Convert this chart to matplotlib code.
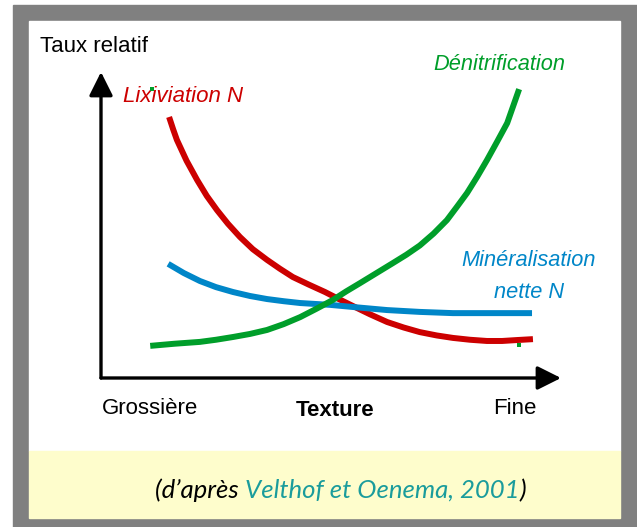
import matplotlib.pyplot as plt
from matplotlib.patches import Rectangle

# curves (texture 0..10, relative rate 0..10)
lix_x = [1.48, 1.57, 1.65, 1.86, 2.09, 2.30, 2.52, 2.76, 3.02, 3.30, 3.61, 3.89, 4.17, 4.52,
         4.87, 5.17, 5.48, 5.85, 6.22, 6.58, 6.93, 7.30, 7.65, 8.02, 8.39, 8.72, 9.04, 9.39]
lix_y = [8.53, 8.12, 7.78, 7.10, 6.47, 5.95, 5.49, 5.04, 4.61, 4.21, 3.86, 3.57, 3.30, 3.05,
         2.81, 2.58, 2.35, 2.08, 1.83, 1.65, 1.50, 1.39, 1.31, 1.25, 1.21, 1.21, 1.24, 1.27]

min_x = [1.46, 1.80, 2.15, 2.50, 2.87, 3.24, 3.61, 3.97, 4.33, 4.98, 5.48, 6.22, 6.93, 7.65, 8.39, 9.37]
min_y = [3.73, 3.43, 3.17, 2.97, 2.81, 2.68, 2.58, 2.51, 2.45, 2.39, 2.32, 2.22, 2.16, 2.12, 2.12, 2.12]

den_x = [1.07, 1.60, 2.15, 2.50, 2.87, 3.24, 3.61, 3.97, 4.33, 4.68, 5.04, 5.33, 5.63, 5.99,
         6.35, 6.64, 6.93, 7.23, 7.52, 7.74, 7.96, 8.18, 8.39, 8.61, 8.83, 9.09]
den_y = [1.05, 1.12, 1.18, 1.25, 1.34, 1.44, 1.57, 1.76, 1.99, 2.26, 2.55, 2.83, 3.10, 3.43,
         3.76, 4.03, 4.33, 4.72, 5.16, 5.60, 6.05, 6.58, 7.12, 7.72, 8.33, 9.44]

# two small green specks present in the original
speck_x = [1.11, 9.09]
speck_y = [9.44, 1.08]

RED = '#cc0000'
GREEN = '#009e2a'
BLUE = '#0086c8'
TEAL = '#1a9c9c'

W, H = 637, 527
fig = plt.figure(figsize=(W / 100, H / 100), dpi=100)

# frame and caption band, in pixel units
bg = fig.add_axes([0, 0, 1, 1])
bg.set_xlim(0, W)
bg.set_ylim(H, 0)
bg.axis('off')
bg.add_patch(Rectangle((13, 5), W - 13, H - 5, color='#808080'))
bg.add_patch(Rectangle((29, 21), 591, 430, color='white'))
bg.add_patch(Rectangle((29, 451), 591, 67, color='#fefdcc'))

# chart area: x from px 101 to 561, y from px 378 up to 72
x0, x1, y0, y1 = 101, 561, 378, 72
ax = fig.add_axes([x0 / W, (H - y0) / H, (x1 - x0) / W, (y0 - y1) / H])
ax.set_xlim(0, 10)
ax.set_ylim(0, 10)
ax.patch.set_visible(False)
for s in ax.spines.values():
    s.set_visible(False)
ax.set_xticks([])
ax.set_yticks([])

arrow = dict(arrowstyle='-|>,head_length=0.9,head_width=0.45', lw=2.4, color='black',
             mutation_scale=16, shrinkA=0, shrinkB=0)
ax.annotate('', xy=(1, 0), xytext=(0, 0), xycoords='axes fraction', arrowprops=arrow)
ax.annotate('', xy=(0, 1), xytext=(0, 0), xycoords='axes fraction', arrowprops=arrow)

lw = 4.3
ax.plot(lix_x, lix_y, color=RED, lw=lw, solid_capstyle='butt', solid_joinstyle='round', clip_on=False)
ax.plot(min_x, min_y, color=BLUE, lw=lw, solid_capstyle='butt', solid_joinstyle='round', clip_on=False)
ax.plot(den_x, den_y, color=GREEN, lw=lw, solid_capstyle='butt', solid_joinstyle='round', clip_on=False)
ax.scatter(speck_x, speck_y, marker='s', s=8, color=GREEN, linewidths=0, clip_on=False)

# labels (pixel coordinates on the background axes)
sans = 'Liberation Sans'
bg.text(40, 47, 'Taux relatif', fontsize=16, family=sans, va='center', ha='left')
bg.text(123, 97, 'Lixiviation N', fontsize=16, family=sans, style='italic', color=RED, va='center')
bg.text(433, 64, 'Dénitrification', fontsize=15.7, family=sans, style='italic', color=GREEN, va='center')
bg.text(529, 261, 'Minéralisation', fontsize=15.7, family=sans, style='italic', color=BLUE,
        va='center', ha='center')
bg.text(529, 292, 'nette N', fontsize=15.7, family=sans, style='italic', color=BLUE,
        va='center', ha='center')
bg.text(150, 409, 'Grossière', fontsize=16, family=sans, va='center', ha='center')
bg.text(335, 410, 'Texture', fontsize=16, family=sans, weight='bold', va='center', ha='center')
bg.text(515, 408, 'Fine', fontsize=16, family=sans, va='center', ha='center')

t1 = bg.text(155, 490, '(d\u2019après ', fontsize=18.5, family='Lato', style='italic',
             va='center', ha='left')
t2 = bg.annotate('Velthof et Oenema, 2001', xy=(1, 0), xycoords=t1, va='bottom', ha='left',
                 fontsize=18.5, family='Lato', style='italic', color=TEAL)
bg.annotate(')', xy=(1, 0), xycoords=t2, va='bottom', ha='left',
            fontsize=18.5, family='Lato', style='italic')

fig.savefig('out.png', dpi=100)
